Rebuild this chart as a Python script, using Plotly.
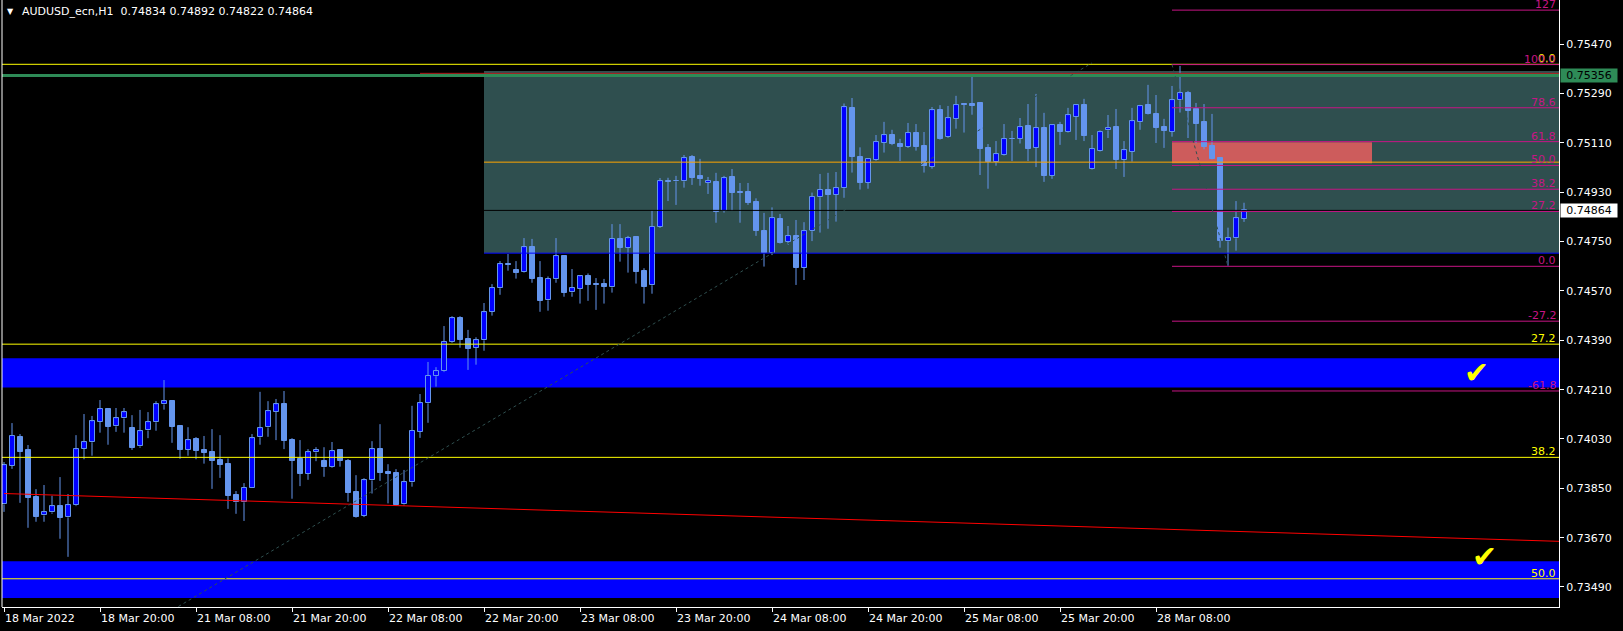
import plotly.graph_objects as go

# ---------------- data ----------------
time_labels = ["18 Mar 2022", "18 Mar 20:00", "21 Mar 08:00", "21 Mar 20:00", "22 Mar 08:00",
               "22 Mar 20:00", "23 Mar 08:00", "23 Mar 20:00", "24 Mar 08:00", "24 Mar 20:00",
               "25 Mar 08:00", "25 Mar 20:00", "28 Mar 08:00"]
label_bars = [0, 12, 24, 36, 48, 60, 72, 84, 96, 108, 120, 132, 144]

opens = [0.73791, 0.73932, 0.74037, 0.73990, 0.73818, 0.73751, 0.73762, 0.73785, 0.73744, 0.73788,
         0.73994, 0.74018, 0.74093, 0.74139, 0.74076, 0.74105, 0.74070, 0.74003, 0.74061, 0.74091,
         0.74156, 0.74167, 0.74077, 0.73991, 0.74030, 0.73990, 0.73982, 0.73953, 0.73938, 0.73825,
         0.73799, 0.73853, 0.74036, 0.74072, 0.74129, 0.74157, 0.74026, 0.73957, 0.73903, 0.73981,
         0.73949, 0.73929, 0.73990, 0.73949, 0.73835, 0.73750, 0.73879, 0.73992, 0.73908, 0.73906,
         0.73791, 0.73872, 0.74056, 0.74160, 0.74259, 0.74277, 0.74383, 0.74470, 0.74395, 0.74363,
         0.74390, 0.74494, 0.74580, 0.74667, 0.74646, 0.74638, 0.74730, 0.74617, 0.74536, 0.74613,
         0.74697, 0.74565, 0.74578, 0.74625, 0.74594, 0.74595, 0.74583, 0.74760, 0.74728, 0.74767,
         0.74643, 0.74591, 0.74805, 0.74970, 0.74970, 0.74970, 0.75059, 0.74990, 0.74965, 0.74968,
         0.74863, 0.74986, 0.74930, 0.74931, 0.74895, 0.74790, 0.74710, 0.74833, 0.74750, 0.74771,
         0.74654, 0.74788, 0.74912, 0.74939, 0.74921, 0.74945, 0.75237, 0.75059, 0.74965, 0.75047,
         0.75111, 0.75138, 0.75106, 0.75097, 0.75147, 0.75098, 0.75024, 0.75229, 0.75131, 0.75199,
         0.75250, 0.75252, 0.75256, 0.75092, 0.75041, 0.75067, 0.75125, 0.75126, 0.75172, 0.75093,
         0.75164, 0.74990, 0.75176, 0.75151, 0.75206, 0.75249, 0.75014, 0.75082, 0.75156, 0.75168,
         0.75047, 0.75078, 0.75186, 0.75249, 0.75216, 0.75168, 0.75151, 0.75266, 0.75294, 0.75235,
         0.75187, 0.75099, 0.75055, 0.74751, 0.74762, 0.74834]
highs = [0.73946, 0.74088, 0.74048, 0.74008, 0.73847, 0.73862, 0.73823, 0.73891, 0.73829, 0.74044,
         0.74121, 0.74114, 0.74172, 0.74143, 0.74143, 0.74143, 0.74117, 0.74136, 0.74128, 0.74168,
         0.74245, 0.74170, 0.74081, 0.74073, 0.74037, 0.74041, 0.74066, 0.74044, 0.73959, 0.73840,
         0.73869, 0.74048, 0.74202, 0.74168, 0.74176, 0.74205, 0.74033, 0.74026, 0.73993, 0.74000,
         0.74000, 0.74019, 0.73993, 0.73957, 0.73898, 0.73887, 0.74022, 0.74084, 0.73938, 0.73920,
         0.73917, 0.74151, 0.74194, 0.74311, 0.74292, 0.74442, 0.74478, 0.74478, 0.74428, 0.74401,
         0.74526, 0.74595, 0.74679, 0.74705, 0.74679, 0.74763, 0.74760, 0.74679, 0.74623, 0.74763,
         0.74701, 0.74650, 0.74628, 0.74634, 0.74617, 0.74614, 0.74814, 0.74814, 0.74771, 0.74769,
         0.74653, 0.74863, 0.74982, 0.74983, 0.74990, 0.75066, 0.75066, 0.75052, 0.74986, 0.75001,
         0.74990, 0.75015, 0.74964, 0.74964, 0.74908, 0.74855, 0.74875, 0.74851, 0.74807, 0.74829,
         0.74821, 0.74929, 0.74997, 0.75001, 0.75004, 0.75254, 0.75274, 0.75094, 0.75052, 0.75139,
         0.75187, 0.75158, 0.75125, 0.75183, 0.75179, 0.75150, 0.75241, 0.75248, 0.75245, 0.75282,
         0.75254, 0.75362, 0.75258, 0.75106, 0.75117, 0.75179, 0.75154, 0.75201, 0.75252, 0.75289,
         0.75220, 0.75176, 0.75187, 0.75238, 0.75250, 0.75271, 0.75139, 0.75156, 0.75212, 0.75234,
         0.75117, 0.75238, 0.75249, 0.75322, 0.75285, 0.75198, 0.75318, 0.75391, 0.75300, 0.75256,
         0.75252, 0.75216, 0.75057, 0.74801, 0.74898, 0.74892]
lows = [0.73764, 0.73921, 0.73797, 0.73706, 0.73728, 0.73728, 0.73757, 0.73666, 0.73600, 0.73785,
        0.73956, 0.73969, 0.74053, 0.74009, 0.74056, 0.74053, 0.73990, 0.73998, 0.74033, 0.74060,
        0.74137, 0.74016, 0.73958, 0.73969, 0.73956, 0.73940, 0.73848, 0.73888, 0.73775, 0.73757,
        0.73731, 0.73851, 0.74009, 0.74038, 0.74026, 0.73993, 0.73812, 0.73858, 0.73881, 0.73949,
        0.73892, 0.73925, 0.73929, 0.73801, 0.73743, 0.73745, 0.73831, 0.73877, 0.73795, 0.73786,
        0.73787, 0.73856, 0.74034, 0.74089, 0.74221, 0.74274, 0.74380, 0.74363, 0.74282, 0.74301,
        0.74352, 0.74480, 0.74556, 0.74644, 0.74615, 0.74636, 0.74600, 0.74494, 0.74498, 0.74600,
        0.74549, 0.74549, 0.74524, 0.74534, 0.74501, 0.74524, 0.74564, 0.74677, 0.74637, 0.74597,
        0.74524, 0.74560, 0.74800, 0.74898, 0.74884, 0.74947, 0.74957, 0.74954, 0.74924, 0.74819,
        0.74856, 0.74862, 0.74819, 0.74884, 0.74771, 0.74659, 0.74701, 0.74743, 0.74738, 0.74592,
        0.74610, 0.74752, 0.74783, 0.74797, 0.74823, 0.74910, 0.75002, 0.74940, 0.74943, 0.75044,
        0.75075, 0.75102, 0.75044, 0.75092, 0.75082, 0.75002, 0.75016, 0.75122, 0.75128, 0.75162,
        0.75148, 0.75213, 0.74993, 0.74943, 0.75027, 0.75064, 0.75044, 0.75108, 0.75044, 0.75022,
        0.74968, 0.74979, 0.75103, 0.75148, 0.75121, 0.75117, 0.75012, 0.75079, 0.75128, 0.75015,
        0.74986, 0.75042, 0.75158, 0.75214, 0.75110, 0.75092, 0.75133, 0.75221, 0.75128, 0.75109,
        0.75087, 0.75050, 0.74728, 0.74662, 0.74717, 0.74822]
closes = [0.73934, 0.74041, 0.73983, 0.73815, 0.73746, 0.73762, 0.73784, 0.73742, 0.73788, 0.73992,
          0.74018, 0.74094, 0.74138, 0.74075, 0.74105, 0.74127, 0.73998, 0.74058, 0.74091, 0.74156,
          0.74167, 0.74075, 0.73991, 0.74025, 0.73987, 0.73980, 0.73950, 0.73936, 0.73823, 0.73799,
          0.73853, 0.74032, 0.74069, 0.74131, 0.74156, 0.74023, 0.73950, 0.73903, 0.73981, 0.73990,
          0.73927, 0.73985, 0.73950, 0.73834, 0.73746, 0.73879, 0.73992, 0.73907, 0.73904, 0.73789,
          0.73872, 0.74059, 0.74160, 0.74260, 0.74277, 0.74383, 0.74470, 0.74392, 0.74359, 0.74390,
          0.74492, 0.74580, 0.74667, 0.74666, 0.74637, 0.74729, 0.74615, 0.74534, 0.74613, 0.74697,
          0.74564, 0.74580, 0.74623, 0.74593, 0.74593, 0.74586, 0.74759, 0.74728, 0.74762, 0.74640,
          0.74586, 0.74805, 0.74970, 0.74969, 0.74971, 0.75054, 0.74983, 0.74979, 0.74971, 0.74859,
          0.74981, 0.74929, 0.74929, 0.74891, 0.74790, 0.74707, 0.74835, 0.74746, 0.74770, 0.74654,
          0.74788, 0.74913, 0.74939, 0.74920, 0.74945, 0.75240, 0.75059, 0.74965, 0.75051, 0.75113,
          0.75138, 0.75106, 0.75097, 0.75146, 0.75097, 0.75026, 0.75229, 0.75126, 0.75200, 0.75248,
          0.75249, 0.75246, 0.75089, 0.75041, 0.75069, 0.75124, 0.75124, 0.75167, 0.75088, 0.75164,
          0.74990, 0.75175, 0.75150, 0.75211, 0.75248, 0.75136, 0.75087, 0.75149, 0.75164, 0.75048,
          0.75083, 0.75189, 0.75244, 0.75216, 0.75165, 0.75155, 0.75266, 0.75291, 0.75228, 0.75179,
          0.75097, 0.75052, 0.74753, 0.74762, 0.74835, 0.74864]

price_ticks = [0.73490, 0.73670, 0.73850, 0.74030, 0.74210, 0.74390, 0.74570, 0.74750,
               0.74930, 0.75110, 0.75290, 0.75470]
y_range = [0.73417, 0.756316]
x_range = [-0.25, 194.375]

bid_price = 0.74864
green_line_price = 0.75356
darkred_line_price = 0.75364
darkred_line_start = 52
orange_line_price = 0.75040
zone_start = 60
zone_top, zone_bottom = 0.75373, 0.74708
blue_bands = [(0.74218, 0.74325), (0.73450, 0.73584)]
red_zone = (146, 171, 0.75036, 0.75113)

pink_fib_start_bar, pink_fib_end_bar = 146, 153
pink_fib_100, pink_fib_0 = 0.75396, 0.74660
pink_levels = [127.0, 100.0, 78.6, 61.8, 50.0, 38.2, 27.2, 0.0, -27.2, -61.8]
pink_texts = ["127", "100.0", "78.6", "61.8", "50.0", "38.2", "27.2", "0.0", "-27.2", "-61.8"]

yellow_fib_0, yellow_fib_100 = 0.75397, 0.71643
yellow_levels = [0.0, 27.2, 38.2, 50.0]
yellow_texts = ["0.0", "27.2", "38.2", "50.0"]

red_trend = [(0, 0.73831), (195, 0.73656)]
slate_trend = [(16, 0.73318), (136, 0.75402)]
checks = [(184, 0.74271), (185, 0.73603)]

title_text = "AUDUSD_ecn,H1\u00a0\u00a00.74834 0.74892 0.74822 0.74864"

# ---------------- styling ----------------
FONT = "DejaVu Sans"
CORN = "#6495ED"
PINK = "#C71585"
YEL = "#FFFF00"
SLATE = "#2F4F4F"

fig = go.Figure()

# wicks (split so they do not cross the bodies)
wx, wy = [], []
for i, (o, h, l, c) in enumerate(zip(opens, highs, lows, closes)):
    top, bot = max(o, c), min(o, c)
    wx += [i, i, None, i, i, None]
    wy += [h, top, None, bot, l, None]
fig.add_trace(go.Scatter(x=wx, y=wy, mode="lines", line=dict(color=CORN, width=1),
                         hoverinfo="skip", showlegend=False))

bull = [i for i in range(len(opens)) if closes[i] >= opens[i]]
bear = [i for i in range(len(opens)) if closes[i] < opens[i]]
for idx, fill in ((bull, "#0000FF"), (bear, CORN)):
    fig.add_trace(go.Bar(
        x=idx,
        y=[max(abs(closes[i] - opens[i]), 0.00002) for i in idx],
        base=[min(opens[i], closes[i]) for i in idx],
        width=0.625,
        marker=dict(color=fill, line=dict(color=CORN, width=1)),
        hoverinfo="skip", showlegend=False))

shapes = []
# background rectangles
for b0, b1 in blue_bands:
    shapes.append(dict(type="rect", xref="paper", yref="y", x0=0, x1=1, y0=b0, y1=b1,
                       fillcolor="#0000FF", line=dict(width=0), layer="below"))
shapes.append(dict(type="rect", xref="x", yref="y", x0=zone_start, x1=400, y0=zone_bottom, y1=zone_top,
                   fillcolor=SLATE, line=dict(width=0), layer="below"))
shapes.append(dict(type="rect", xref="x", yref="y", x0=red_zone[0], x1=red_zone[1],
                   y0=red_zone[2], y1=red_zone[3], fillcolor="#CD5C5C", line=dict(width=0), layer="below"))

def hline(y, color, width=1, x0=None, dash="solid"):
    if x0 is None:
        return dict(type="line", xref="paper", yref="y", x0=0, x1=1, y0=y, y1=y,
                    line=dict(color=color, width=width, dash=dash), layer="above")
    return dict(type="line", xref="x", yref="y", x0=x0, x1=400, y0=y, y1=y,
                line=dict(color=color, width=width, dash=dash), layer="above")

shapes.append(hline(bid_price, "#000000"))
for lv in yellow_levels:
    shapes.append(hline(yellow_fib_0 + (yellow_fib_100 - yellow_fib_0) * lv / 100.0, YEL))
shapes.append(dict(type="line", xref="x", yref="y", x0=red_trend[0][0], y0=red_trend[0][1],
                   x1=red_trend[1][0], y1=red_trend[1][1], line=dict(color="#FF0000", width=1), layer="above"))
shapes.append(hline(green_line_price, "#2E8B57", width=3))
shapes.append(hline(darkred_line_price, "#B41E1E", x0=darkred_line_start))
shapes.append(hline(orange_line_price, "#FFA500", x0=zone_start))
shapes.append(hline(zone_bottom, "#0000FF", x0=zone_start))
for lv in pink_levels:
    shapes.append(hline(pink_fib_0 + (pink_fib_100 - pink_fib_0) * lv / 100.0, PINK, x0=pink_fib_start_bar))
shapes.append(dict(type="line", xref="x", yref="y", x0=slate_trend[0][0], y0=slate_trend[0][1],
                   x1=slate_trend[1][0], y1=slate_trend[1][1],
                   line=dict(color=SLATE, width=1, dash="dot"), layer="above"))
shapes.append(dict(type="line", xref="x", yref="y", x0=pink_fib_start_bar, y0=pink_fib_100,
                   x1=pink_fib_end_bar, y1=pink_fib_0,
                   line=dict(color=SLATE, width=1, dash="dot"), layer="above"))
# left frame line
shapes.append(dict(type="line", xref="paper", yref="paper", x0=0, x1=0, y0=0, y1=1,
                   line=dict(color="#FFFFFF", width=1), layer="above"))

ann = []
for lv, t in zip(yellow_levels, yellow_texts):
    ann.append(dict(xref="paper", yref="y", x=1, y=yellow_fib_0 + (yellow_fib_100 - yellow_fib_0) * lv / 100.0,
                    xanchor="right", yanchor="bottom", xshift=-1, yshift=-3, text=t, showarrow=False,
                    font=dict(family=FONT, size=11, color=YEL)))
for lv, t in zip(pink_levels, pink_texts):
    ann.append(dict(xref="paper", yref="y", x=1, y=pink_fib_0 + (pink_fib_100 - pink_fib_0) * lv / 100.0,
                    xanchor="right", yanchor="bottom", xshift=-1, yshift=-3, text=t, showarrow=False,
                    font=dict(family=FONT, size=11, color=PINK)))
for b, t in zip(label_bars, time_labels):
    ann.append(dict(xref="x", yref="paper", x=b, y=0, xanchor="left", yanchor="top", xshift=-1, yshift=-3,
                    text=t, showarrow=False, font=dict(family=FONT, size=11, color="#FFFFFF")))
for cx, cy in checks:
    ann.append(dict(xref="x", yref="y", x=cx, y=cy, text="\u2714", showarrow=False,
                    font=dict(family=FONT, size=30, color=YEL)))
# price boxes on the axis
ann.append(dict(xref="paper", yref="y", x=1, y=green_line_price, xanchor="left", yanchor="middle", xshift=1,
                text="0.75356", showarrow=False, bgcolor="#2E8B57", borderpad=1, width=54, height=11,
                font=dict(family=FONT, size=11, color="#000000")))
ann.append(dict(xref="paper", yref="y", x=1, y=bid_price, xanchor="left", yanchor="middle", xshift=1,
                text="0.74864", showarrow=False, bgcolor="#FFFFFF", borderpad=1, width=54, height=11,
                font=dict(family=FONT, size=11, color="#000000")))
# header
ann.append(dict(xref="paper", yref="paper", x=0, y=1, xanchor="left", yanchor="top", xshift=3, yshift=-5,
                text="\u25BC", showarrow=False, font=dict(family=FONT, size=8, color="#FFFFFF")))
ann.append(dict(xref="paper", yref="paper", x=0, y=1, xanchor="left", yanchor="top", xshift=18, yshift=-3,
                text=title_text, showarrow=False, font=dict(family=FONT, size=11, color="#FFFFFF")))

fig.update_layout(
    width=1623, height=631,
    margin=dict(l=2, r=64, t=0, b=24, pad=0),
    paper_bgcolor="#000000", plot_bgcolor="#000000",
    barmode="overlay", bargap=0,
    showlegend=False,
    shapes=shapes, annotations=ann,
    xaxis=dict(range=x_range, showgrid=False, zeroline=False, tickvals=label_bars,
               showticklabels=False, ticks="outside", ticklen=4, tickcolor="#FFFFFF",
               showline=True, linecolor="#FFFFFF", linewidth=1, fixedrange=True),
    yaxis=dict(range=y_range, side="right", showgrid=False, zeroline=False, tickvals=price_ticks,
               tickformat=".5f", ticks="outside", ticklen=4, tickcolor="#FFFFFF",
               tickfont=dict(family=FONT, size=11, color="#FFFFFF"),
               showline=True, linecolor="#FFFFFF", linewidth=1, fixedrange=True),
)

fig.write_html("out.html", config={"displayModeBar": False},
               post_script="document.body.style.margin='0px';document.body.style.background='#000000';")
